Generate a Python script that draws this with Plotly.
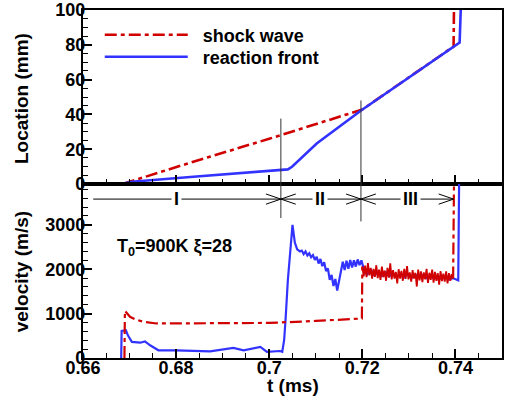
import plotly.graph_objects as go
from plotly.subplots import make_subplots

FONT = "Liberation Sans, Arial, sans-serif"
RED = "#d00000"
BLUE = "#3333ff"
DASHDOT = "12px,4px,4px,4px"

# ---------------- data: positions (mm) vs t (ms) ----------------
shock_pos_t = [0.6686, 0.6700, 0.6837, 0.7000, 0.7200, 0.7300, 0.7396, 0.7397]
shock_pos = [0.0, 1.3, 12.8, 26.0, 42.8, 61.2, 79.0, 105.0]

front_pos_t = [0.6682, 0.6705, 0.6837, 0.6959, 0.7030, 0.7040, 0.7049, 0.7102,
               0.7198, 0.7300, 0.7409, 0.7412]
front_pos = [0.0, 1.3, 4.2, 6.7, 8.0, 8.4, 9.9, 23.3, 42.4, 61.2, 81.3, 105.0]

# ---------------- data: velocities (m/s) vs t (ms) ----------------
# shock wave, smooth part (dash-dot), ending with the jump at t = 0.72
shock_vel_t = [0.6689, 0.6690, 0.6701, 0.6715, 0.6730, 0.6758, 0.6800, 0.6900,
               0.6960, 0.7000, 0.7100, 0.7199, 0.7200]
shock_vel = [0, 1063, 928, 860, 815, 778, 780, 782,
             785, 790, 835, 889, 2060]
# shock wave, oscillating part (solid band)
shock_osc_t = [0.7200, 0.7203, 0.7206, 0.7209, 0.7212, 0.7215, 0.7218, 0.7221, 0.7224, 0.7227,
               0.7230, 0.7233, 0.7236, 0.7239, 0.7242, 0.7245, 0.7248, 0.7251, 0.7254, 0.7257,
               0.7260, 0.7263, 0.7266, 0.7269, 0.7272, 0.7275, 0.7278, 0.7281, 0.7284, 0.7287,
               0.7290, 0.7293, 0.7296, 0.7299, 0.7302, 0.7305, 0.7308, 0.7311, 0.7314, 0.7317,
               0.7320, 0.7323, 0.7326, 0.7329, 0.7332, 0.7335, 0.7338, 0.7341, 0.7344, 0.7347,
               0.7350, 0.7353, 0.7356, 0.7359, 0.7362, 0.7365, 0.7368, 0.7371, 0.7374, 0.7377,
               0.7380, 0.7383, 0.7386, 0.7389, 0.7392, 0.7395]
shock_osc = [2060, 1840, 2080, 1820, 2140, 1860, 2030, 1790, 2010, 1830,
             2090, 1800, 1990, 1760, 2060, 1820, 1970, 1740, 2030, 1810,
             2130, 1770, 1980, 1790, 1940, 1680, 2000, 1790, 1960, 1740,
             2010, 1780, 2070, 1770, 1930, 1720, 1980, 1790, 1920, 1610,
             1990, 1750, 1950, 1710, 1930, 1770, 2010, 1690, 1920, 1760,
             1990, 1700, 1940, 1740, 1910, 1650, 1960, 1730, 1900, 1720,
             1950, 1680, 1910, 1740, 1890, 1790]
# shock wave, final jump (dash-dot)
shock_jump_t = [0.7395, 0.7397]
shock_jump = [1790, 4100]

front_vel_t = [0.6682, 0.6683, 0.6692, 0.6697, 0.6705, 0.6723, 0.6733, 0.6745, 0.6762,
               0.6800, 0.6873, 0.6900, 0.6923, 0.6945, 0.6973, 0.6981, 0.6995, 0.7023,
               0.7028, 0.7032, 0.7035, 0.7040, 0.7046, 0.7050, 0.7055, 0.7060, 0.7066,
               0.7070, 0.7074, 0.7078, 0.7082, 0.7086, 0.7090, 0.7094, 0.7098, 0.7102,
               0.7106, 0.7110, 0.7114, 0.7118, 0.7122, 0.7126, 0.7130, 0.7134, 0.7138,
               0.7142, 0.7146, 0.7150, 0.7154, 0.7158, 0.7162, 0.7166, 0.7170, 0.7174,
               0.7178, 0.7182, 0.7186, 0.7190, 0.7194, 0.7198,
               0.7202, 0.7210, 0.7218, 0.7226, 0.7234, 0.7242, 0.7250, 0.7258, 0.7266,
               0.7274, 0.7282, 0.7290, 0.7298, 0.7306, 0.7314, 0.7322, 0.7330, 0.7338,
               0.7346, 0.7354, 0.7362, 0.7370, 0.7378, 0.7386, 0.7394, 0.7402,
               0.7406, 0.7408]
front_vel = [0, 611, 625, 500, 362, 345, 375, 280, 174,
             172, 151, 190, 226, 174, 235, 248, 136, 158,
             140, 400, 850, 1750, 2500, 3000, 2600, 2450, 2400,
             2420, 2340, 2400, 2310, 2360, 2270, 2320, 2210, 2280,
             2130, 2230, 2070, 2160, 1960, 2020, 1760, 1870, 1620,
             1780, 1520, 1760, 1950, 2170, 1980, 2190, 2010, 2210,
             2040, 2200, 2060, 2220, 2090, 2200,
             2050, 1880, 1990, 1860, 1950, 1850, 1930, 1840, 1910,
             1830, 1900, 1820, 1890, 1810, 1880, 1820, 1870, 1800,
             1860, 1790, 1850, 1780, 1830, 1770, 1800, 1760,
             1750, 4100]

# ---------------- axis ticks ----------------
x_ticks = [0.66, 0.68, 0.70, 0.72, 0.74]
x_ticktext = ["0.66", "0.68", "0.7", "0.72", "0.74"]
pos_ticks = [0, 20, 40, 60, 80, 100]
vel_ticks = [0, 1000, 2000, 3000]

# ---------------- phase annotations ----------------
phase_bounds = [0.7025, 0.7197]
phase_start = 0.6622
phase_end = 0.7396
phase_labels = ["I", "II", "III"]
phase_label_t = [0.6800, 0.7109, 0.7303]
arrow_vel = 3580
bound_top_pos = [37.6, 48.0]
bound_bottom_vel = [3154, 3077]

fig = make_subplots(rows=2, cols=1, shared_xaxes=True, vertical_spacing=0)

# top panel: red first, blue on top
fig.add_trace(go.Scatter(x=shock_pos_t, y=shock_pos, mode="lines", name="\u00a0\u00a0shock wave",
                         line=dict(color=RED, width=2.6, dash=DASHDOT),
                         legend="legend"), row=1, col=1)
fig.add_trace(go.Scatter(x=front_pos_t, y=front_pos, mode="lines", name="\u00a0\u00a0reaction front",
                         line=dict(color=BLUE, width=2.6), legend="legend2"), row=1, col=1)
# bottom panel: blue first, red on top
fig.add_trace(go.Scatter(x=front_vel_t, y=front_vel, mode="lines", showlegend=False,
                         line=dict(color=BLUE, width=2.2)), row=2, col=1)
fig.add_trace(go.Scatter(x=shock_vel_t, y=shock_vel, mode="lines", showlegend=False,
                         line=dict(color=RED, width=2.2, dash=DASHDOT)), row=2, col=1)
fig.add_trace(go.Scatter(x=shock_osc_t, y=shock_osc, mode="lines", showlegend=False,
                         line=dict(color=RED, width=1.8)), row=2, col=1)
fig.add_trace(go.Scatter(x=shock_jump_t, y=shock_jump, mode="lines", showlegend=False,
                         line=dict(color=RED, width=2.2, dash=DASHDOT)), row=2, col=1)

tickfont = dict(family=FONT, size=18, color="black")
common = dict(showline=True, linewidth=2.2, linecolor="black", mirror=True,
              ticks="inside", ticklen=9, tickwidth=1.5, tickcolor="black",
              showgrid=False, zeroline=False, tickfont=tickfont, automargin=False,
              ticklabelstandoff=-8)


def bold(labels):
    return [f"<b>{s}</b>" for s in labels]


fig.update_xaxes(range=[0.66, 0.75], tickvals=x_ticks, ticktext=bold(x_ticktext),
                 minor=dict(dtick=0.005, tick0=0.66, ticks="inside", ticklen=5,
                            tickwidth=1.2, tickcolor="black"), **common)
fig.update_yaxes(range=[0, 100], tickvals=pos_ticks, ticktext=bold([str(v) for v in pos_ticks]),
                 domain=[0.5, 1.0],
                 minor=dict(dtick=5, tick0=0, ticks="inside", ticklen=5,
                            tickwidth=1.2, tickcolor="black"), row=1, col=1, **common)
fig.update_yaxes(range=[0, 3920], tickvals=vel_ticks, ticktext=bold([str(v) for v in vel_ticks]),
                 domain=[0.0, 0.5],
                 minor=dict(dtick=200, tick0=0, ticks="inside", ticklen=5,
                            tickwidth=1.2, tickcolor="black"), row=2, col=1, **common)

shapes = []
annotations = []
for tb, ytop, vbot in zip(phase_bounds, bound_top_pos, bound_bottom_vel):
    shapes.append(dict(type="line", xref="x", yref="y", x0=tb, x1=tb, y0=0, y1=ytop,
                       line=dict(color="#333333", width=1)))
    shapes.append(dict(type="line", xref="x2", yref="y2", x0=tb, x1=tb, y0=vbot, y1=3920,
                       line=dict(color="#333333", width=1)))
shapes.append(dict(type="line", xref="x2", yref="y2", x0=phase_start, x1=phase_end,
                   y0=arrow_vel, y1=arrow_vel, line=dict(color="black", width=1)))
dx = 0.0032
dy = 115
heads = [(phase_bounds[0], -1), (phase_bounds[0], 1), (phase_bounds[1], -1),
         (phase_bounds[1], 1), (phase_end, -1)]
for tip, side in heads:
    xb = tip + side * dx
    shapes.append(dict(type="path", xref="x2", yref="y2",
                       path=f"M{xb},{arrow_vel + dy} L{tip},{arrow_vel} L{xb},{arrow_vel - dy}",
                       line=dict(color="black", width=1)))

labfont = dict(family=FONT, size=18, color="black")
for lab, tl in zip(phase_labels, phase_label_t):
    annotations.append(dict(x=tl, y=arrow_vel, xref="x2", yref="y2", text=f"<b>{lab}</b>",
                            showarrow=False, bgcolor="white", borderpad=2, font=labfont))

annotations.append(dict(x=0.6796, y=2480, xref="x2", yref="y2",
                        text="<b>T<sub>0</sub>=900K ξ=28</b>", showarrow=False, font=labfont))
titlefont = dict(family=FONT, size=19, color="black")
annotations.append(dict(x=-0.148, y=0.747, xref="paper", yref="paper", text="<b>Location (mm)</b>",
                        textangle=-90, showarrow=False, xanchor="center", yanchor="middle",
                        font=titlefont))
annotations.append(dict(x=-0.148, y=0.249, xref="paper", yref="paper", text="<b>velocity (m/s)</b>",
                        textangle=-90, showarrow=False, xanchor="center", yanchor="middle",
                        font=titlefont))
annotations.append(dict(x=0.501, y=-0.080, xref="paper", yref="paper", text="<b>t (ms)</b>",
                        showarrow=False, xanchor="center", yanchor="middle", font=titlefont))

legfont = dict(family=FONT, size=18, color="black", weight="bold")
legcommon = dict(xanchor="left", yanchor="middle", bgcolor="rgba(0,0,0,0)",
                 itemwidth=83, font=legfont, borderwidth=0)
fig.update_layout(
    width=510, height=404,
    margin=dict(l=83, r=8, t=10, b=46, autoexpand=False),
    paper_bgcolor="white", plot_bgcolor="white",
    showlegend=True,
    legend=dict(x=0.04, y=(358 - 35) / 348, **legcommon),
    legend2=dict(x=0.04, y=(358 - 57) / 348, **legcommon),
    shapes=shapes, annotations=annotations,
)

fig.write_html("out.html", config={"displayModeBar": False},
               post_script="document.body.style.margin='0px';")
